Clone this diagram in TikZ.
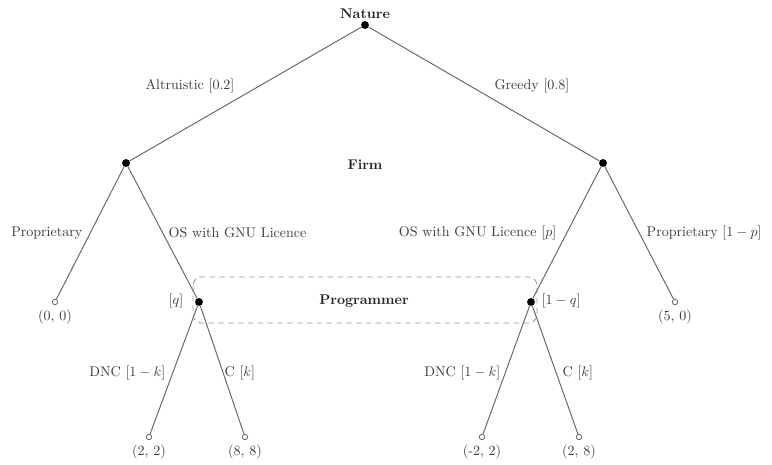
\documentclass[tikz,border=0pt]{standalone}
\usetikzlibrary{positioning}

\definecolor{branchgray}{RGB}{115,102,98}
\definecolor{setgray}{RGB}{150,150,150}
\definecolor{textgray}{RGB}{60,60,60}

\begin{document}
\begin{tikzpicture}[x=0.025cm, y=-0.025cm,
    dec/.style={circle, fill=black, inner sep=0pt, minimum size=5.6pt},
    leaf/.style={circle, draw=branchgray, fill=white, line width=0.6pt, inner sep=0pt, minimum size=3.8pt},
    branch/.style={draw=branchgray, line width=0.7pt},
    lbl/.style={text=textgray, inner sep=1pt},
    player/.style={font=\bfseries, text=black!85}]

    % パラメータの定義
    \pgfmathsetmacro{\yN}{25}
    \pgfmathsetmacro{\yF}{163}
    \pgfmathsetmacro{\yP}{302}
    \pgfmathsetmacro{\yL}{437}

    \useasboundingbox (0,0) rectangle (772,465);

    % 点の定義
    \node[dec] (N) at (365,\yN) {};
    \node[dec] (FA) at (126,\yF) {};
    \node[dec] (FG) at (603,\yF) {};
    \node[dec] (PA) at (199,\yP) {};
    \node[dec] (PG) at (531,\yP) {};
    \node[leaf] (LA) at (55,\yP) {};
    \node[leaf] (LG) at (675,\yP) {};
    \node[leaf] (LA1) at (149,\yL) {};
    \node[leaf] (LA2) at (245,\yL) {};
    \node[leaf] (LG1) at (482,\yL) {};
    \node[leaf] (LG2) at (579,\yL) {};

    % 情報集合
    \draw[setgray, dashed, dash pattern=on 4pt off 3pt, line width=0.6pt, rounded corners=6pt]
        ([shift={(-6,-25)}]PA.center) rectangle ([shift={(6,21)}]PG.center);

    % 線分の描画
    \draw[branch] (N) -- (FA);
    \draw[branch] (N) -- (FG);
    \draw[branch] (FA) -- (LA);
    \draw[branch] (FA) -- (PA);
    \draw[branch] (FG) -- (PG);
    \draw[branch] (FG) -- (LG);
    \draw[branch] (PA) -- (LA1);
    \draw[branch] (PA) -- (LA2);
    \draw[branch] (PG) -- (LG1);
    \draw[branch] (PG) -- (LG2);

    % プレイヤー
    \node[player] (natlbl) at (365,14) {Nature};
    \node[player] (firmlbl) at (365,165) {Firm};
    \node[player] (proglbl) at (364,301) {Programmer};

    % 枝のラベル
    \node[lbl] (altr) at (190,86) {Altruistic [0.2]};
    \node[lbl] (greedy) at (532,86) {Greedy [0.8]};
    \node[lbl, anchor=east] (propA) at (84,233) {Proprietary};
    \node[lbl, anchor=west] (osA) at (167,233) {OS with GNU Licence};
    \node[lbl, anchor=east] (osG) at (558,233) {OS with GNU Licence [$p$]};
    \node[lbl, anchor=west] (propG) at (645,233) {Proprietary [$1-p$]};
    \node[lbl] (qA) at (176,301) {[$q$]};
    \node[lbl, anchor=west] (qG) at (540,301) {[$1-q$]};
    \node[lbl, anchor=east] (dncA) at (167,373) {DNC [$1-k$]};
    \node[lbl, anchor=west] (cA) at (223,373) {C [$k$]};
    \node[lbl, anchor=east] (dncG) at (502,373) {DNC [$1-k$]};
    \node[lbl, anchor=west] (cG) at (561,373) {C [$k$]};

    % 利得
    \node[lbl, below=2pt of LA] (payA) {(0, 0)};
    \node[lbl, below=2pt of LG] (payG) {(5, 0)};
    \node[lbl, below=2pt of LA1] (payA1) {(2, 2)};
    \node[lbl, below=2pt of LA2] (payA2) {(8, 8)};
    \node[lbl, below=2pt of LG1] (payG1) {(-2, 2)};
    \node[lbl, below=2pt of LG2] (payG2) {(2, 8)};

\end{tikzpicture}
\end{document}
